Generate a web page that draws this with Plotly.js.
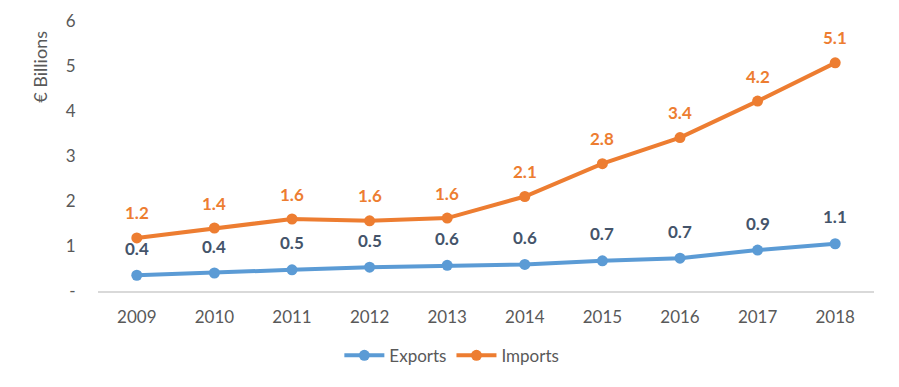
<!DOCTYPE html>
<html><head><meta charset="utf-8">
<script src="https://cdn.plot.ly/plotly-3.0.1.min.js"></script>
<style>html,body{margin:0;padding:0;background:#fff;}#chart{width:899px;height:387px;}</style>
</head><body><div id="chart"></div>
<script>
const years = [2009, 2010, 2011, 2012, 2013, 2014, 2015, 2016, 2017, 2018];
const exportsVals = [0.35, 0.40, 0.47, 0.53, 0.57, 0.59, 0.67, 0.73, 0.91, 1.05];
const importsVals = [1.18, 1.40, 1.60, 1.56, 1.62, 2.10, 2.83, 3.41, 4.22, 5.07];
const exportsLabels = ['0.4','0.4','0.5','0.5','0.6','0.6','0.7','0.7','0.9','1.1'];
const importsLabels = ['1.2','1.4','1.6','1.6','1.6','2.1','2.8','3.4','4.2','5.1'];
const yTickVals = [0,1,2,3,4,5,6];
const yTickText = ['-','1','2','3','4','5','6'];

const FONT = 'Lato, "Open Sans", sans-serif';
const blue = '#5B9BD5', orange = '#ED7D31', labelDark = '#44546A', grey = '#595959';

const traces = [
  {x: years, y: exportsVals, name: 'Exports', type: 'scatter', mode: 'lines+markers',
   line: {color: blue, width: 4}, marker: {color: blue, size: 11}},
  {x: years, y: importsVals, name: 'Imports', type: 'scatter', mode: 'lines+markers',
   line: {color: orange, width: 4}, marker: {color: orange, size: 11}}
];

const annotations = [];
years.forEach((yr, i) => {
  annotations.push({x: yr, y: exportsVals[i], xref: 'x', yref: 'y', text: '<b>' + exportsLabels[i] + '</b>', showarrow: false,
    yshift: 27, font: {family: FONT, size: 17, color: labelDark}});
  annotations.push({x: yr, y: importsVals[i], xref: 'x', yref: 'y', text: '<b>' + importsLabels[i] + '</b>', showarrow: false,
    yshift: 25, font: {family: FONT, size: 17, color: orange}});
});
annotations.push({xref: 'paper', yref: 'paper', x: -0.075, y: 0.83, xanchor: 'center', yanchor: 'middle',
  text: '€ Billions', textangle: -90, showarrow: false, font: {family: FONT, size: 18, color: grey}});

const layout = {
  width: 899, height: 387,
  margin: {l: 98, r: 25, t: 21, b: 96},
  paper_bgcolor: '#fff', plot_bgcolor: '#fff',
  font: {family: FONT, size: 17, color: grey},
  showlegend: true,
  legend: {orientation: 'h', x: 0.456, xanchor: 'center', y: -0.24, yanchor: 'middle',
    font: {family: FONT, size: 17, color: grey}, itemwidth: 40, traceorder: 'normal'},
  xaxis: {range: [2008.5, 2018.5], tickvals: years, ticktext: years.map(String),
    showgrid: false, zeroline: false, showline: true,
    linecolor: '#D9D9D9', linewidth: 1.5, ticks: 'outside', ticklen: 10, tickcolor: 'rgba(0,0,0,0)',
    tickfont: {family: FONT, size: 17, color: grey}, fixedrange: true},
  yaxis: {range: [0, 6], showgrid: false, zeroline: false, showline: false,
    tickvals: yTickVals, ticktext: yTickText, ticks: 'outside', ticklen: 18, tickcolor: 'rgba(0,0,0,0)',
    tickfont: {family: FONT, size: 17, color: grey}, fixedrange: true},
  annotations: annotations
};

Plotly.newPlot('chart', traces, layout, {displayModeBar: false, staticPlot: true});
</script>
</body></html>
